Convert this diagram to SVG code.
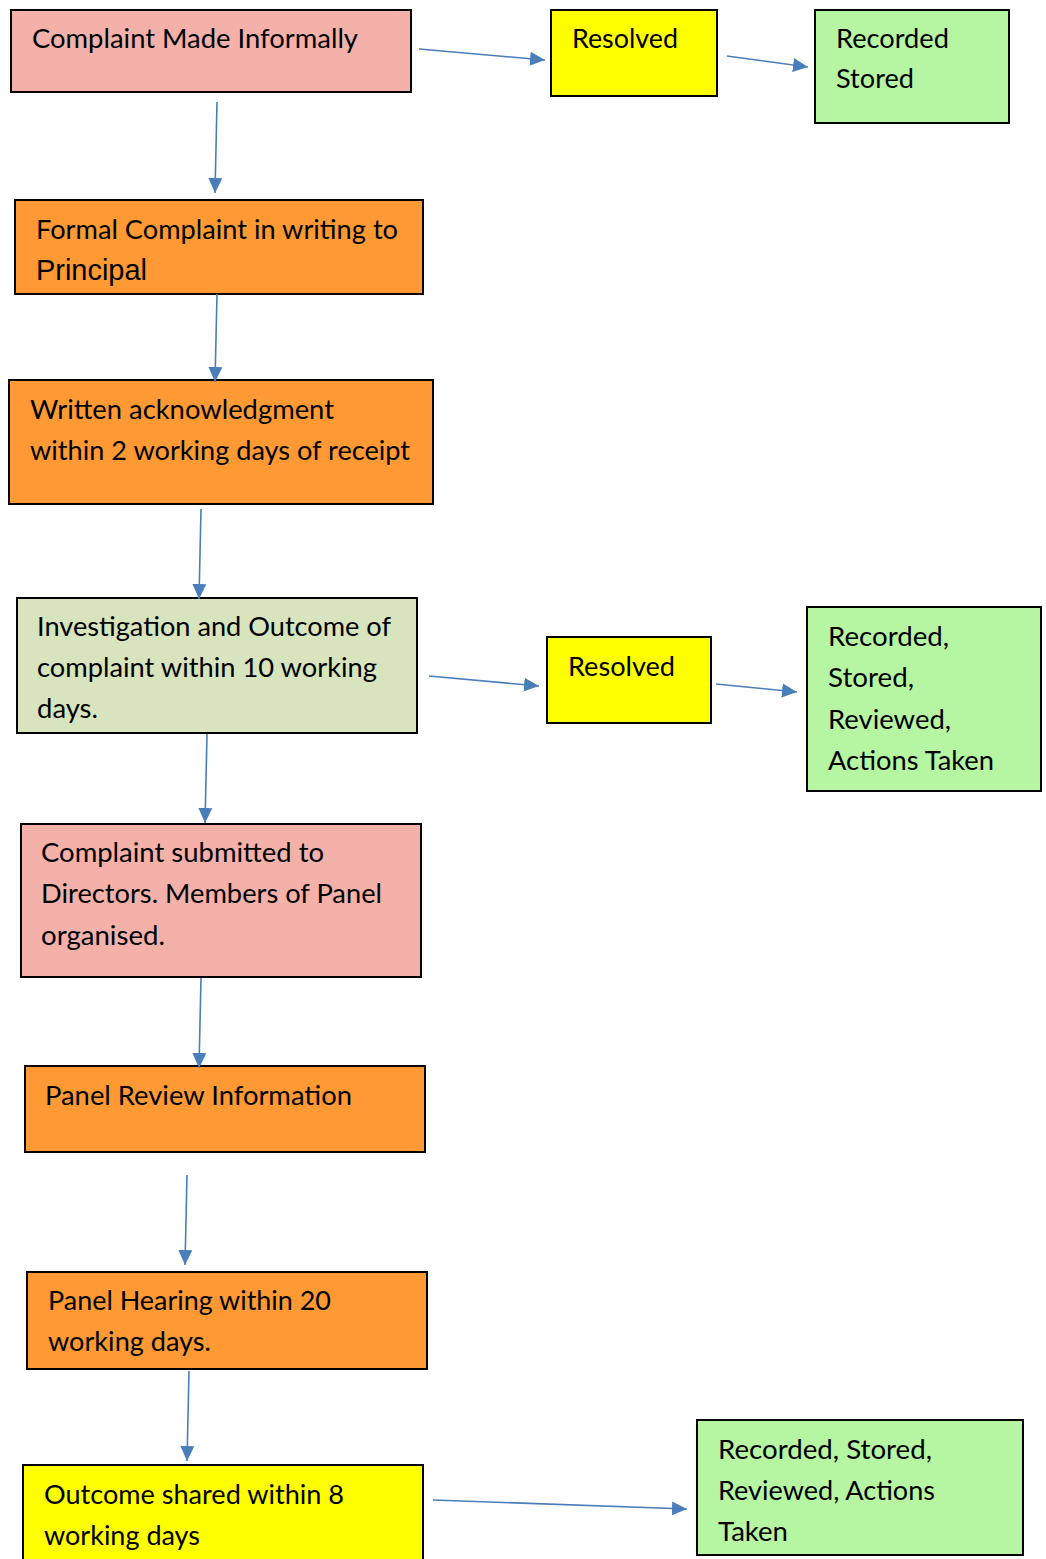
<svg xmlns="http://www.w3.org/2000/svg" width="1046" height="1559" viewBox="0 0 1046 1559">
<style>
rect{stroke:#000;stroke-width:2}
.pink{fill:#F4B1AA}.orange{fill:#FF9933}.yellow{fill:#FFFF00}.green{fill:#B6F5A1}.olive{fill:#D7E4BD}
text{font-family:Lato,"Open Sans","Liberation Sans",sans-serif;font-size:26.5px;fill:#000}
.arial{font-family:"Liberation Sans",Arial,sans-serif;font-size:29px}
.conn line{stroke:#4A7EBB;stroke-width:1.6;fill:none;marker-end:url(#ah)}
</style>
<defs>
<marker id="ah" markerUnits="userSpaceOnUse" markerWidth="16" markerHeight="16" viewBox="0 0 16 16" refX="15" refY="8" orient="auto">
<path d="M0,1 L15,8 L0,15 Z" fill="#4A7EBB"/>
</marker>
</defs>
<rect width="1046" height="1559" fill="#fff" style="stroke:none"/>
<g id="n1"><rect class="pink" x="11" y="10" width="400" height="82"/>
<text x="32" y="48" textLength="326" lengthAdjust="spacingAndGlyphs">Complaint Made Informally</text></g>
<g id="n2"><rect class="yellow" x="551" y="10" width="166" height="86"/>
<text x="572" y="48" textLength="106" lengthAdjust="spacingAndGlyphs">Resolved</text></g>
<g id="n3"><rect class="green" x="815" y="10" width="194" height="113"/>
<text x="836" y="48" textLength="113" lengthAdjust="spacingAndGlyphs">Recorded</text>
<text x="836" y="88" textLength="78" lengthAdjust="spacingAndGlyphs">Stored</text></g>
<g id="n4"><rect class="orange" x="15" y="200" width="408" height="94"/>
<text x="36" y="239" textLength="362" lengthAdjust="spacingAndGlyphs">Formal Complaint in writing to</text>
<text class="arial" x="36" y="280" textLength="111" lengthAdjust="spacingAndGlyphs">Principal</text></g>
<g id="n5"><rect class="orange" x="9" y="380" width="424" height="124"/>
<text x="30" y="419" textLength="304" lengthAdjust="spacingAndGlyphs">Written acknowledgment</text>
<text x="30" y="460" textLength="380" lengthAdjust="spacingAndGlyphs">within 2 working days of receipt</text></g>
<g id="n6"><rect class="olive" x="17" y="598" width="400" height="135"/>
<text x="37" y="636" textLength="354" lengthAdjust="spacingAndGlyphs">Investigation and Outcome of</text>
<text x="37" y="677" textLength="340" lengthAdjust="spacingAndGlyphs">complaint within 10 working</text>
<text x="37" y="718" textLength="61" lengthAdjust="spacingAndGlyphs">days.</text></g>
<g id="n7"><rect class="yellow" x="547" y="637" width="164" height="86"/>
<text x="568" y="676" textLength="107" lengthAdjust="spacingAndGlyphs">Resolved</text></g>
<g id="n8"><rect class="green" x="807" y="607" width="234" height="184"/>
<text x="828" y="646" textLength="121" lengthAdjust="spacingAndGlyphs">Recorded,</text>
<text x="828" y="687" textLength="86" lengthAdjust="spacingAndGlyphs">Stored,</text>
<text x="828" y="729" textLength="123" lengthAdjust="spacingAndGlyphs">Reviewed,</text>
<text x="828" y="770" textLength="166" lengthAdjust="spacingAndGlyphs">Actions Taken</text></g>
<g id="n9"><rect class="pink" x="21" y="824" width="400" height="153"/>
<text x="41" y="862" textLength="283" lengthAdjust="spacingAndGlyphs">Complaint submitted to</text>
<text x="41" y="903" textLength="341" lengthAdjust="spacingAndGlyphs">Directors. Members of Panel</text>
<text x="41" y="945" textLength="124" lengthAdjust="spacingAndGlyphs">organised.</text></g>
<g id="n10"><rect class="orange" x="25" y="1066" width="400" height="86"/>
<text x="45" y="1105" textLength="307" lengthAdjust="spacingAndGlyphs">Panel Review Information</text></g>
<g id="n11"><rect class="orange" x="27" y="1272" width="400" height="97"/>
<text x="48" y="1310" textLength="283" lengthAdjust="spacingAndGlyphs">Panel Hearing within 20</text>
<text x="48" y="1351" textLength="163" lengthAdjust="spacingAndGlyphs">working days.</text></g>
<g id="n12"><rect class="yellow" x="23" y="1465" width="400" height="104"/>
<text x="44" y="1504" textLength="300" lengthAdjust="spacingAndGlyphs">Outcome shared within 8</text>
<text x="44" y="1545" textLength="156" lengthAdjust="spacingAndGlyphs">working days</text></g>
<g id="n13"><rect class="green" x="697" y="1420" width="326" height="135"/>
<text x="718" y="1459" textLength="214" lengthAdjust="spacingAndGlyphs">Recorded, Stored,</text>
<text x="718" y="1500" textLength="217" lengthAdjust="spacingAndGlyphs">Reviewed, Actions</text>
<text x="718" y="1541" textLength="70" lengthAdjust="spacingAndGlyphs">Taken</text></g>
<g id="connectors" class="conn">
<line x1="217" y1="102" x2="215" y2="193"/>
<line x1="419" y1="49" x2="545" y2="60"/>
<line x1="727" y1="56" x2="808" y2="67"/>
<line x1="217" y1="294" x2="215" y2="382"/>
<line x1="201" y1="509" x2="199" y2="599"/>
<line x1="429" y1="676" x2="539" y2="686"/>
<line x1="716" y1="684" x2="797" y2="692"/>
<line x1="207" y1="734" x2="205" y2="823"/>
<line x1="201" y1="978" x2="199" y2="1068"/>
<line x1="187" y1="1175" x2="185" y2="1265"/>
<line x1="189" y1="1371" x2="187" y2="1461"/>
<line x1="433" y1="1500" x2="687" y2="1509"/>
</g>
</svg>
